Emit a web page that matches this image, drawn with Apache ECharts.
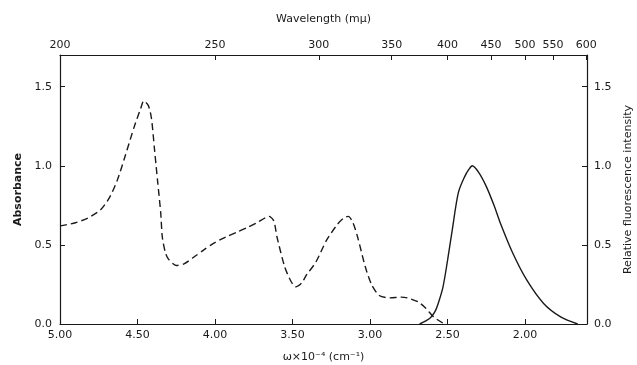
<!DOCTYPE html>
<html>
<head>
<meta charset="utf-8">
<script src="https://cdn.jsdelivr.net/npm/echarts@6/dist/echarts.min.js"></script>
<style>
  html, body { margin: 0; padding: 0; background: #fff; }
  #chart { width: 637px; height: 365px; }
</style>
</head>
<body>
<div id="chart"></div>
<script>
// wavenumber (x 10^-4 cm^-1) and absorbance, dashed curve
const absWavenumber = [5.00, 4.90, 4.82, 4.74, 4.68, 4.63, 4.58, 4.52, 4.48, 4.46, 4.43, 4.41, 4.39, 4.37, 4.35, 4.34, 4.32, 4.30, 4.25, 4.20, 4.14, 4.07, 4.01, 3.93, 3.86, 3.79, 3.73, 3.65, 3.62, 3.60, 3.55, 3.51, 3.48, 3.44, 3.41, 3.35, 3.28, 3.21, 3.17, 3.14, 3.11, 3.08, 3.03, 2.99, 2.94, 2.87, 2.80, 2.76, 2.69, 2.64, 2.59, 2.52];
const absorbance = [0.62, 0.64, 0.67, 0.72, 0.80, 0.91, 1.06, 1.25, 1.36, 1.41, 1.38, 1.30, 1.10, 0.90, 0.70, 0.55, 0.45, 0.41, 0.37, 0.38, 0.42, 0.47, 0.51, 0.55, 0.58, 0.61, 0.64, 0.68, 0.65, 0.55, 0.36, 0.27, 0.235, 0.26, 0.31, 0.39, 0.53, 0.63, 0.67, 0.68, 0.64, 0.55, 0.36, 0.25, 0.18, 0.165, 0.17, 0.165, 0.14, 0.10, 0.045, 0.0];

// fluorescence, solid curve
const fluWavenumber = [2.68, 2.64, 2.61, 2.58, 2.56, 2.53, 2.50, 2.47, 2.43, 2.39, 2.36, 2.34, 2.30, 2.25, 2.20, 2.16, 2.08, 1.99, 1.88, 1.77, 1.66];
const fluorescence = [0.0, 0.02, 0.04, 0.08, 0.13, 0.23, 0.40, 0.59, 0.83, 0.93, 0.98, 1.00, 0.96, 0.87, 0.75, 0.64, 0.45, 0.28, 0.13, 0.045, 0.0];

const bottomTicks = [5.00, 4.50, 4.00, 3.50, 3.00, 2.50, 2.00];
const wavelengthLabels = [200, 250, 300, 350, 400, 450, 500, 550, 600];
const wavelengthPos = [5.00, 4.00, 3.33, 2.86, 2.50, 2.22, 2.00, 1.82, 1.605];
const yTicks = [0.0, 0.5, 1.0, 1.5];

const chart = echarts.init(document.getElementById('chart'));
const font = 'DejaVu Sans';
const black = '#1a1a1a';

const baseX = {
  type: 'value',
  inverse: true,
  min: 1.6,
  max: 5.0,
  splitLine: { show: false },
  axisLine: { show: true, onZero: false, lineStyle: { color: black, width: 1.2 } },
  axisTick: { inside: true, length: 5, lineStyle: { color: black } }
};
const baseY = {
  type: 'value',
  min: 0,
  max: 1.7,
  splitLine: { show: false },
  axisLine: { show: true, lineStyle: { color: black, width: 1.2 } },
  axisTick: { inside: true, length: 5, customValues: yTicks, lineStyle: { color: black } },
  axisLabel: { customValues: yTicks, fontFamily: font, fontSize: 11, color: black, formatter: v => v.toFixed(1) }
};

const option = {
  animation: false,
  backgroundColor: '#fff',
  grid: { left: 60, right: 50, top: 55, bottom: 41, containLabel: false, outerBoundsMode: 'none' },
  xAxis: [
    Object.assign({}, baseX, {
      position: 'bottom',
      name: 'ω×10⁻⁴ (cm⁻¹)',
      nameLocation: 'middle',
      nameGap: 28,
      nameTextStyle: { fontFamily: font, fontSize: 11, color: black },
      axisTick: { inside: true, length: 5, customValues: bottomTicks, lineStyle: { color: black } },
      axisLabel: { customValues: bottomTicks, margin: 6, fontFamily: font, fontSize: 11, color: black, formatter: v => v.toFixed(2) }
    }),
    Object.assign({}, baseX, {
      position: 'top',
      name: 'Wavelength (mμ)',
      nameLocation: 'middle',
      nameGap: 30,
      nameTextStyle: { fontFamily: font, fontSize: 11, color: black },
      axisTick: { inside: true, length: 5, customValues: wavelengthPos, lineStyle: { color: black } },
      axisLabel: {
        customValues: wavelengthPos, margin: 4, fontFamily: font, fontSize: 11, color: black,
        formatter: v => {
          let best = 0;
          wavelengthPos.forEach((p, i) => { if (Math.abs(p - v) < Math.abs(wavelengthPos[best] - v)) best = i; });
          return String(wavelengthLabels[best]);
        }
      }
    })
  ],
  yAxis: [
    Object.assign({}, baseY, {
      position: 'left',
      name: 'Absorbance',
      nameLocation: 'middle',
      nameGap: 35,
      nameTextStyle: { fontFamily: font, fontSize: 11, fontWeight: 'bold', color: black }
    }),
    Object.assign({}, baseY, {
      position: 'right',
      name: 'Relative fluorescence intensity',
      nameLocation: 'middle',
      nameGap: 36,
      nameTextStyle: { fontFamily: font, fontSize: 11, color: black },
      axisLabel: Object.assign({}, baseY.axisLabel, { margin: 7 })
    })
  ],
  series: [
    {
      type: 'line',
      xAxisIndex: 0,
      yAxisIndex: 0,
      data: absWavenumber.map((w, i) => [w, absorbance[i]]),
      showSymbol: false,
      smooth: 0.25,
      lineStyle: { color: black, width: 1.4, type: [7, 4] }
    },
    {
      type: 'line',
      xAxisIndex: 0,
      yAxisIndex: 1,
      data: fluWavenumber.map((w, i) => [w, fluorescence[i]]),
      showSymbol: false,
      smooth: 0.3,
      lineStyle: { color: black, width: 1.4 }
    }
  ]
};

chart.setOption(option);
</script>
</body>
</html>
